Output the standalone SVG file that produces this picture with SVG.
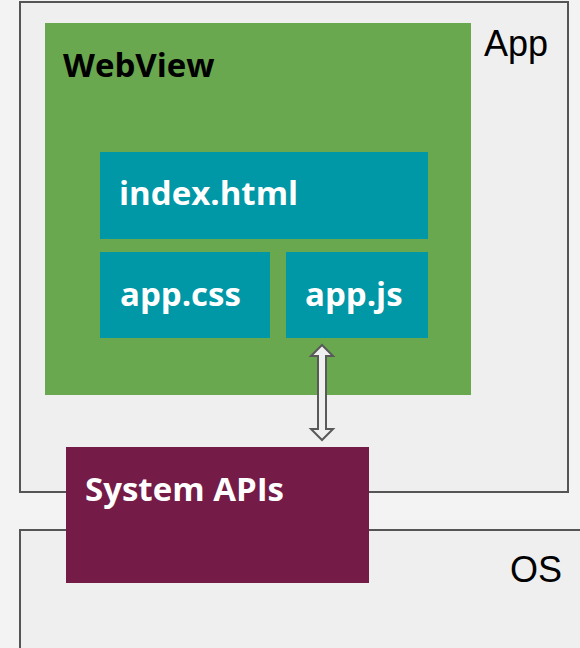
<svg xmlns="http://www.w3.org/2000/svg" width="580" height="648" viewBox="0 0 580 648">
<style>
.frame{fill:#efefef;stroke:#555;stroke-width:2}
.lbl{font-family:"Liberation Sans",Arial,sans-serif;font-size:36px;fill:#000}
.bold{font-family:"Open Sans","Noto Sans",sans-serif;font-weight:bold;font-size:33px}
.file{fill:#0097a7}
.w{fill:#fff}
</style>
<rect width="580" height="648" fill="#f3f3f3"/>
<g id="app">
<rect class="frame" x="20" y="2" width="548" height="490"/>
<text class="lbl" x="484" y="56">App</text>
</g>
<g id="os">
<rect class="frame" x="20" y="530" width="570" height="130"/>
<text class="lbl" x="510" y="582">OS</text>
</g>
<g id="webview">
<rect x="45" y="23" width="426" height="372" fill="#6aa84f"/>
<text class="bold" x="63" y="77" fill="#000">WebView</text>
</g>
<g id="index">
<rect class="file" x="100" y="152" width="328" height="87"/>
<text class="bold w" x="119" y="205">index.html</text>
</g>
<g id="appcss">
<rect class="file" x="100" y="252" width="170" height="86"/>
<text class="bold w" x="120" y="306">app.css</text>
</g>
<g id="appjs">
<rect class="file" x="286" y="252" width="142" height="86"/>
<text class="bold w" x="305" y="306">app.js</text>
</g>
<g id="sysapi">
<rect x="66" y="447" width="303" height="136" fill="#741b47"/>
<text class="bold w" x="85" y="501">System APIs</text>
</g>
<g id="connectors">
<path d="M322 345 L333 356 L326 356 L326 429 L333 429 L322 440 L311 429 L318 429 L318 356 L311 356 Z" fill="#efefef" stroke="#595959" stroke-width="2" stroke-linejoin="miter"/>
</g>
</svg>
